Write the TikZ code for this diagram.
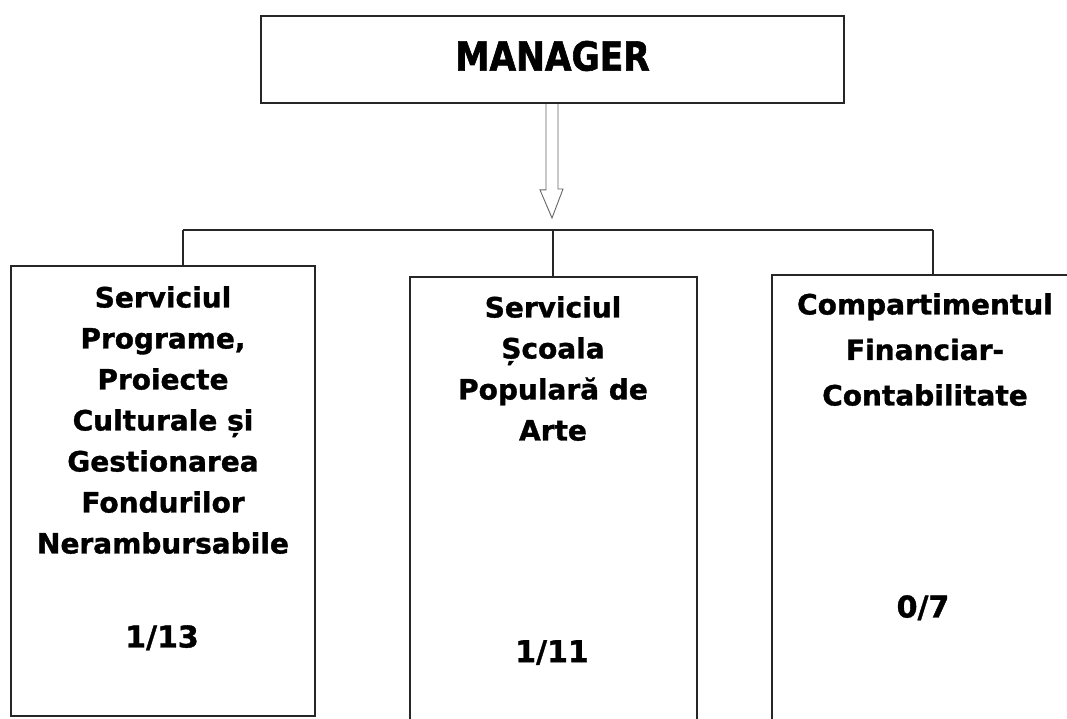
\documentclass[tikz,border=0pt]{standalone}
\usepackage{fontspec}
\setmainfont{DejaVu Sans}[BoldFeatures={FakeBold=1.2}]
\newfontfamily\mgrfont{DejaVu Sans}[FakeStretch=0.86,BoldFeatures={FakeBold=1.5}]
\begin{document}
\begin{tikzpicture}[x=1pt,y=-1pt,
  box/.style={draw=black!85,line width=1.8pt,fill=white,inner sep=0pt},
  boxtext/.style={align=center,inner sep=0pt,anchor=north,font=\bfseries\fontsize{28}{41}\selectfont},
  numtext/.style={inner sep=0pt,anchor=north,font=\bfseries\fontsize{30}{36}\selectfont},
  conn/.style={draw=black!85,line width=1.5pt},
  hollow/.style={draw=black!60,line width=0.9pt,line join=miter}]
\useasboundingbox (0,0) rectangle (1067,718);
\clip (0,0) rectangle (1067,718);
\fill[white] (0,0) rectangle (1067,718);

% manager
\node[box,minimum width=583pt,minimum height=87pt] (m) at (552.5,59.5) {};
\node[inner sep=0pt,font=\mgrfont\bfseries\fontsize{40}{44}\selectfont] (mt) at (552.5,56) {MANAGER};

% boxes
\node[box,minimum width=304pt,minimum height=450pt] (b1) at (163,491) {};
\node[box,minimum width=287pt,minimum height=450pt] (b2) at (553.5,502) {};
\node[box,minimum width=308pt,minimum height=452pt] (b3) at (926,501) {};

% hollow arrow
\coordinate (tip) at (552,218);
\draw[hollow] ([xshift=-6.5pt]m.south) -- ++(0,86) -- ++(-6,0) -- (tip) -- ++(11,-29) -- ++(-5,0) -- ([xshift=5.5pt]m.south);

% bus
\coordinate (d1) at (183,230);
\coordinate (d2) at (553,230);
\coordinate (d3) at (933,230);
\draw[conn] (d1) -- (d3);
\draw[conn] (d1) -- (d1 |- b1.north);
\draw[conn] (d2) -- (d2 |- b2.north);
\draw[conn] (d3) -- (d3 |- b3.north);

% texts
\node[boxtext] (t1) at (163,286) {Serviciul\\Programe,\\Proiecte\\Culturale și\\Gestionarea\\Fondurilor\\Nerambursabile};
\node[numtext] (n1) at (162,625) {1/13};

\node[boxtext] (t2) at (553,296) {Serviciul\\Școala\\Populară de\\Arte};
\node[numtext] (n2) at (552,640) {1/11};

\node[boxtext,font=\bfseries\fontsize{28}{45.5}\selectfont] (t3) at (925,293) {Compartimentul\\Financiar-\\Contabilitate};
\node[numtext] (n3) at (923,595) {0/7};
\end{tikzpicture}
\end{document}
